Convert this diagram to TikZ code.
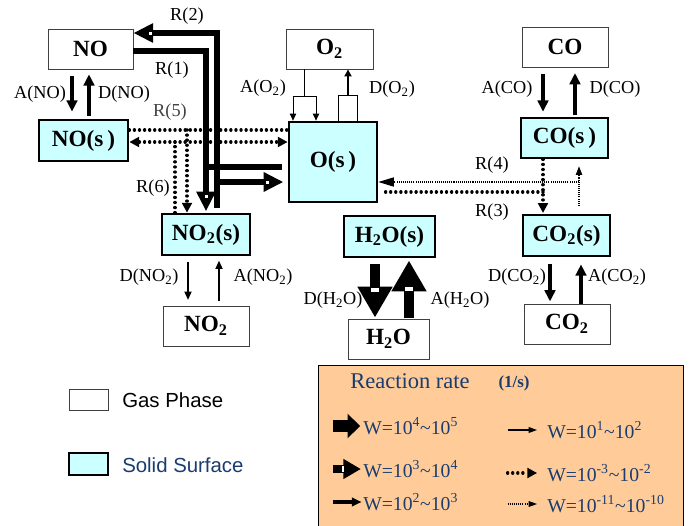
\documentclass[tikz,border=0pt]{standalone}
\usepackage{fontspec}
\setmainfont{Liberation Serif}
\setsansfont{Liberation Sans}
\usepackage{xcolor}
\usepackage{tikz}
\usetikzlibrary{arrows.meta}

\begin{document}
\begin{tikzpicture}[x=0.025cm, y=-0.025cm,
    lab/.style={font=\fontsize{13}{14}\selectfont, inner sep=0pt},
    flow/.style={line width=2.2pt, -{Triangle[length=8pt,width=7.5pt]}},
    slim/.style={line width=1.2pt, -{Triangle[length=6pt,width=5pt]}},
    hair/.style={line width=0.7pt},
    rbig/.style={line width=4.3pt, -{Triangle[length=14pt,width=13pt]}},
    blk/.style={line width=7.8pt, -{Triangle[length=22pt,width=23.5pt]}},
    dotbig/.style={line width=2.4pt, line cap=round, dash pattern=on 0.01pt off 3.6pt},
    dottiny/.style={line width=0.75pt, dash pattern=on 0.75pt off 0.75pt},
    tipd/.style={-{Triangle[length=7pt,width=7pt]}},
  ]
  % Colour definitions
  \definecolor{SurfFill}{HTML}{CCFFFF}   % surface species
  \definecolor{KeyFill}{HTML}{FFCC99}    % legend panel
  \definecolor{KeyText}{HTML}{1A3C6E}    % navy legend text

  \tikzstyle{gas} = [draw=black!75, line width=0.6pt, fill=white,
    minimum width=2.15cm, minimum height=1cm, inner sep=0pt,
    font=\fontsize{16.5}{18}\selectfont\bfseries]
  \tikzstyle{surf} = [gas, draw=black, line width=1.9pt, fill=SurfFill,
    minimum height=1.025cm]
  \tikzstyle{keytxt} = [anchor=west, inner sep=0pt, text=KeyText,
    font=\fontsize{14}{16}\selectfont]

  \useasboundingbox (0,0) rectangle (692,526);

  % Species boxes
  \node[gas, minimum width=2.125cm] (no) at (90.5,49) {NO};
  \node[gas, minimum width=2.175cm] (o2) at (329.5,49) {O\textsubscript{2}};
  \node[gas] (co) at (565,47) {CO};
  \node[surf, minimum width=2.225cm] (nos) at (83.5,140.5) {NO(s\,)};
  \node[surf, minimum width=2.2cm, minimum height=2cm] (os) at (333,162) {O(s\,)};
  \node[surf, minimum width=2.175cm, minimum height=1cm] (cos) at (564.5,138) {CO(s\,)};
  \node[surf, minimum width=2.2cm] (no2s) at (206,234.5) {NO\textsubscript{2}(s)};
  \node[surf, minimum width=2.275cm] (h2os) at (389.5,236.5) {H\textsubscript{2}O(s)};
  \node[surf, minimum width=2.175cm] (co2s) at (566.5,235.5) {CO\textsubscript{2}(s)};
  \node[gas] (no2) at (206,326) {NO\textsubscript{2}};
  \node[gas, minimum width=2.025cm] (h2o) at (388.5,339) {H\textsubscript{2}O};
  \node[gas] (co2) at (567,324) {CO\textsubscript{2}};

  % Branch points
  \coordinate (o2fork) at (304,96);
  \coordinate (o2join) at (348,95);
  \coordinate (r5fork) at (187,130);
  \coordinate (r6fork) at (175,142);
  \coordinate (r3fork) at (543,192);
  \coordinate (r4fork) at (579,182);

  % Adsorption / desorption
  \draw[flow, shorten <=5pt, shorten >=5pt] (72,0 |- no.south) -- (72,0 |- nos.north);
  \draw[flow, shorten <=2pt, shorten >=3.5pt] (89,0 |- nos.north) -- (89,0 |- no.south);
  \draw[flow, shorten <=5pt, shorten >=3.5pt] (543,0 |- co.south) -- (543,0 |- cos.north);
  \draw[flow, shorten <=1.5pt, shorten >=4pt] (575,0 |- cos.north) -- (575,0 |- co.south);
  \draw[flow, shorten <=5pt, shorten >=1.5pt] (550,0 |- co2s.south) -- (550,0 |- co2.north);
  \draw[flow, shorten >=5pt] (581,0 |- co2.north) -- (581,0 |- co2s.south);
  \draw[slim, shorten <=4pt, shorten >=4pt] (188,0 |- no2s.south) -- (188,0 |- no2.north);
  \draw[slim, shorten <=3pt, shorten >=3pt] (219,0 |- no2.north) -- (219,0 |- no2s.south);

  % O2 adsorption (split) and desorption (join)
  \draw[hair] (o2fork |- o2.south) -- (o2fork) ([xshift=-0.275cm]o2fork) -- ([xshift=0.3cm]o2fork);
  \draw[hair, -{Triangle[length=5pt,width=4.5pt]}] ([xshift=-0.275cm]o2fork) -- ([xshift=-0.275cm]o2fork |- os.north);
  \draw[hair, -{Triangle[length=5pt,width=4.5pt]}] ([xshift=0.3cm]o2fork) -- ([xshift=0.3cm]o2fork |- os.north);
  \draw[hair] ([xshift=-0.25cm]o2join |- os.north) |- ([xshift=0.225cm]o2join) -- ([xshift=0.225cm]o2join |- os.north);
  \draw[line width=1.5pt, -{Triangle[length=5pt,width=5pt]}] (o2join) -- (o2join |- o2.south);

  % H2O (block arrows)
  \draw[blk, shorten <=4pt, shorten >=0.7pt] (375,0 |- h2os.south) -- (375,0 |- h2o.north);
  \draw[blk, shorten <=0.7pt, shorten >=1.5pt] (409,0 |- h2o.north) -- (409,0 |- h2os.south);

  % R(1) and R(2)
  \draw[rbig, shorten >=1pt] (no.east |- 0,51) -| (206,0 |- no2s.north);
  \draw[line width=4.3pt, shorten <=4.2pt] (os.west |- 0,167) -- (206,167);
  \draw[rbig, shorten <=3pt] (217,0 |- no2s.north) |- (no.east |- 0,33);
  \draw[rbig, shorten >=3pt] (217,182) -- (os.west |- 0,182);

  % white notches on the fast arrows
  \foreach \x/\y in {150/33, 206/196, 267.5/182}
    \fill[white] (\x-1.5,\y-1.5) rectangle (\x+1.5,\y+1.5);
  \fill[white] (371,288) rectangle (379,292);
  \fill[white] (405,287) rectangle (413,290.5);

  % R(5), R(6)
  \draw[dotbig] (nos.east |- r5fork) -- (os.west |- r5fork);
  \draw[dotbig, tipd] (r5fork) -- (r5fork |- no2s.north);
  \draw[dotbig] (r6fork |- no2s.north) -- (r6fork);
  \draw[dotbig, tipd] (r6fork) -- (nos.east |- r6fork);
  \draw[dotbig, tipd] (r6fork) -- (os.west |- r6fork);

  % R(3), R(4)
  \draw[dotbig, tipd, shorten >=0.5pt] (r3fork |- cos.south) -- (r3fork |- co2s.north);
  \draw[dotbig, shorten >=4pt] (r3fork) -- (os.east |- r3fork);
  \draw[dottiny, -{Triangle[length=6pt,width=4.5pt]}, shorten <=5.5pt, shorten >=5pt]
    (r4fork |- co2s.north) -- (r4fork |- cos.south);
  \draw[dottiny, -{Triangle[length=11pt,width=6.5pt]}] (r4fork) -- (os.east |- r4fork);

  % Labels
  \node[lab] (lano) at (40,94) {A(NO)};
  \node[lab] (ldno) at (124,94) {D(NO)};
  \node[lab] (lr2) at (187,16) {R(2)};
  \node[lab] (lr1) at (172,70) {R(1)};
  \node[lab, text=black!75] (lr5) at (170,112) {R(5)};
  \node[lab] (lr6) at (153,188) {R(6)};
  \node[lab] (lao2) at (263,88) {A(O\textsubscript{2})};
  \node[lab] (ldo2) at (392,89) {D(O\textsubscript{2})};
  \node[lab] (laco) at (507,89) {A(CO)};
  \node[lab] (ldco) at (615,89) {D(CO)};
  \node[lab] (lr4) at (492,165) {R(4)};
  \node[lab] (lr3) at (492,212) {R(3)};
  \node[lab] (ldno2) at (149,277) {D(NO\textsubscript{2})};
  \node[lab] (lano2) at (263,277) {A(NO\textsubscript{2})};
  \node[lab] (ldh2o) at (333,300) {D(H\textsubscript{2}O)};
  \node[lab] (lah2o) at (460,300) {A(H\textsubscript{2}O)};
  \node[lab] (ldco2) at (517,277) {D(CO\textsubscript{2})};
  \node[lab] (laco2) at (617,277) {A(CO\textsubscript{2})};

  % Phase key
  \node[draw=black!75, line width=0.6pt, fill=white, minimum width=0.975cm,
    minimum height=0.525cm] (gaskey) at (88.5,399.5) {};
  \node[draw=black, line width=1.9pt, fill=SurfFill, minimum width=0.975cm,
    minimum height=0.55cm] (surfkey) at (88.5,464) {};
  \node[anchor=west, inner sep=0pt, font=\sffamily\fontsize{14.5}{16}\selectfont]
    (gastxt) at (122,400) {Gas Phase};
  \node[anchor=west, inner sep=0pt, text=KeyText, font=\sffamily\fontsize{14.5}{16}\selectfont]
    (surftxt) at (122,465) {Solid Surface};

  % Reaction-rate key
  \fill[KeyFill] (318,365) rectangle (683,526);
  \draw[line width=0.6pt] (318,526) |- (683,365) -- (683,526);
  \node[text=KeyText, font=\fontsize{16}{18}\selectfont] (keyhead) at (410,381) {Reaction rate};
  \node[text=KeyText, font=\fontsize{12}{14}\selectfont\bfseries] (keyunit) at (514,383) {(1/s)};

  \node[keytxt] (w45) at (363,426) {W=10\textsuperscript{4}\textasciitilde10\textsuperscript{5}};
  \node[keytxt] (w34) at (363,469) {W=10\textsuperscript{3}\textasciitilde10\textsuperscript{4}};
  \node[keytxt] (w23) at (363,502) {W=10\textsuperscript{2}\textasciitilde10\textsuperscript{3}};
  \node[keytxt] (w12) at (547,430) {W=10\textsuperscript{1}\textasciitilde10\textsuperscript{2}};
  \node[keytxt] (w32) at (547,473) {W=10\textsuperscript{-3}\textasciitilde10\textsuperscript{-2}};
  \node[keytxt] (w1110) at (547,504) {W=10\textsuperscript{-11}\textasciitilde10\textsuperscript{-10}};

  \draw[line width=8.5pt, -{Triangle[length=9pt,width=17pt]}] ([xshift=-21pt]w45.west) -- ([xshift=-2pt]w45.west);
  \draw[line width=5.7pt, -{Triangle[length=12.5pt,width=13.5pt]}] ([xshift=-21pt]w34.west) -- ([xshift=-1.5pt]w34.west);
  \fill[white] ([xshift=-14.6pt, yshift=-1.8pt]w34.west) rectangle ([xshift=-13.6pt, yshift=1.8pt]w34.west);
  \draw[line width=2.2pt, -{Triangle[length=7pt,width=6pt]}] ([xshift=-21pt]w23.west) -- ([xshift=-1pt]w23.west);
  \draw[line width=1pt, -{Triangle[length=6pt,width=4pt]}] ([xshift=-28pt]w12.west) -- ([xshift=-7pt]w12.west);
  \draw[dotbig, tipd] ([xshift=-28pt]w32.west) -- ([xshift=-7pt]w32.west);
  \draw[dottiny, -{Triangle[length=6pt,width=4pt]}] ([xshift=-28pt]w1110.west) -- ([xshift=-7pt]w1110.west);
\end{tikzpicture}
\end{document}
